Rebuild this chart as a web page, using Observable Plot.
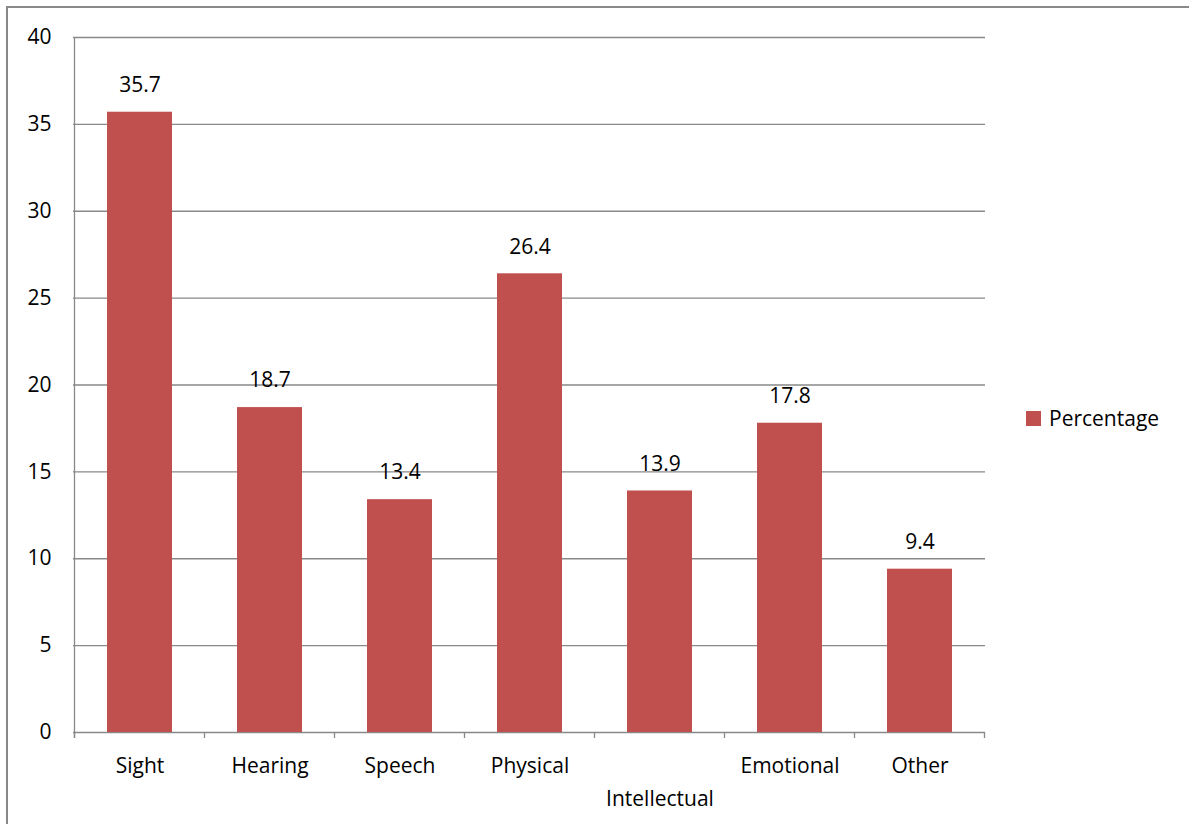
<!DOCTYPE html>
<html>
<head>
<meta charset="utf-8">
<script src="https://cdn.jsdelivr.net/npm/d3@7"></script>
<script src="https://cdn.jsdelivr.net/npm/@observablehq/plot@0.6"></script>
<style>
  html, body { margin: 0; padding: 0; background: #fff; }
  #wrap { position: relative; width: 1189px; height: 824px; overflow: hidden; font-family: "Open Sans", sans-serif; }
  #border { position: absolute; left: 6px; top: 6px; width: 1190px; height: 830px; border: 2px solid #898989; box-sizing: border-box; }
  #chart { position: absolute; left: 0; top: 0; }
  #legend { position: absolute; left: 1026px; top: 404px; display: flex; align-items: center; font-size: 21px; color: #000; }
  #legend .sw { width: 15px; height: 15px; background: #C0504D; margin-right: 8px; }
</style>
</head>
<body>
<div id="wrap">
  <div id="border"></div>
  <div id="chart"></div>
  <div id="legend"><div class="sw"></div><span id="legend-label"></span></div>
</div>
<script>
const categories = ["Sight", "Hearing", "Speech", "Physical", "Intellectual", "Emotional", "Other"];
const values = [35.7, 18.7, 13.4, 26.4, 13.9, 17.8, 9.4];
const seriesName = "Percentage";
const yTicks = [0, 5, 10, 15, 20, 25, 30, 35, 40];
const staggered = ["Intellectual"];

const data = categories.map((c, i) => ({category: c, value: values[i]}));
const barColor = "#C0504D";
const gridColor = "#898989";

document.getElementById("legend-label").textContent = seriesName;

const chart = Plot.plot({
  width: 1189,
  height: 824,
  marginLeft: 73,
  marginRight: 204,
  marginTop: 37,
  marginBottom: 92,
  style: {fontFamily: "Open Sans, sans-serif", fontSize: "21px", color: "#000", background: "transparent", overflow: "visible"},
  x: {domain: categories, paddingInner: 0.5, paddingOuter: 0.25, axis: null},
  y: {domain: [0, 40], axis: null},
  marks: [
    Plot.ruleY(yTicks, {y: d => d, stroke: gridColor, strokeWidth: 1.3}),
    Plot.ruleY(yTicks, {y: d => d, stroke: gridColor, strokeWidth: 1.3, x1: 0, x2: 0, insetLeft: -6}),
    Plot.text(yTicks, {y: d => d, text: d => String(d), frameAnchor: "left", textAnchor: "end", dx: -22, fill: "#000", fontSize: 21}),
    Plot.ruleX([0], {stroke: gridColor, strokeWidth: 1.3}),
    Plot.barY(data, {x: "category", y: "value", fill: barColor}),
    Plot.text(data, {x: "category", y: "value", text: d => d.value.toFixed(1), dy: -27, fill: "#000", fontSize: 21}),
    Plot.text(data.filter(d => !staggered.includes(d.category)), {x: "category", y: 0, text: "category", dy: 34, fill: "#000", fontSize: 21}),
    Plot.text(data.filter(d => staggered.includes(d.category)), {x: "category", y: 0, text: "category", dy: 67, fill: "#000", fontSize: 21})
  ]
});

// y axis line and category boundary ticks derived from the band scale
const xs = chart.scale("x");
const ys = chart.scale("y");
const svg = d3.select(chart);
const step = xs.step;
const y0 = ys.apply(0);
const bounds = categories.map(c => xs.apply(c) - (step - xs.bandwidth) / 2);
bounds.push(bounds[bounds.length - 1] + step);
svg.append("g").selectAll("line").data(bounds).join("line")
  .attr("x1", d => d).attr("x2", d => d)
  .attr("y1", y0).attr("y2", y0 + 6)
  .attr("stroke", gridColor).attr("stroke-width", 1.3);
svg.append("line")
  .attr("x1", bounds[0]).attr("x2", bounds[0])
  .attr("y1", ys.apply(40)).attr("y2", y0 + 6)
  .attr("stroke", gridColor).attr("stroke-width", 1.3);

document.getElementById("chart").appendChild(chart);
</script>
</body>
</html>
